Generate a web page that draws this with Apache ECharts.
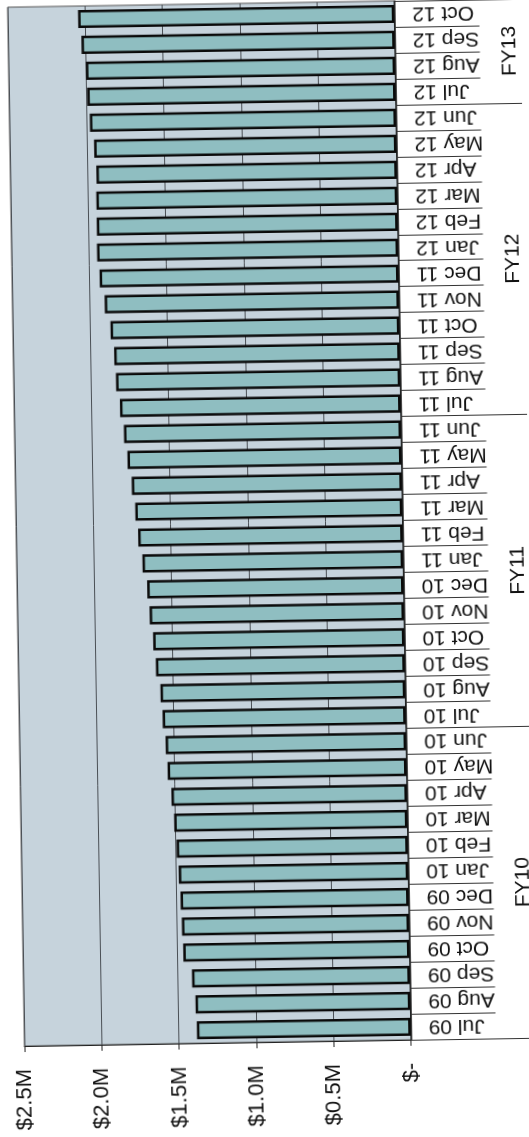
<!DOCTYPE html>
<html>
<head>
<meta charset="utf-8">
<script src="https://cdn.jsdelivr.net/npm/echarts@6/dist/echarts.min.js"></script>
<style>
html,body{margin:0;padding:0;background:#ffffff;}
#c{width:529px;height:1137px;transform:rotate(-0.93deg);transform-origin:209px 523px;}
</style>
</head>
<body>
<div id="c"></div>
<script>
// Months (bottom to top)
const months = [
  'Jul 09','Aug 09','Sep 09','Oct 09','Nov 09','Dec 09','Jan 10','Feb 10','Mar 10','Apr 10','May 10','Jun 10',
  'Jul 10','Aug 10','Sep 10','Oct 10','Nov 10','Dec 10','Jan 11','Feb 11','Mar 11','Apr 11','May 11','Jun 11',
  'Jul 11','Aug 11','Sep 11','Oct 11','Nov 11','Dec 11','Jan 12','Feb 12','Mar 12','Apr 12','May 12','Jun 12',
  'Jul 12','Aug 12','Sep 12','Oct 12'
];
// Values in $ millions
const values = [
  1.383,1.389,1.409,1.463,1.469,1.475,1.484,1.495,1.508,1.523,1.545,1.555,
  1.572,1.583,1.610,1.625,1.645,1.658,1.686,1.711,1.727,1.747,1.772,1.792,
  1.815,1.838,1.847,1.868,1.903,1.933,1.947,1.946,1.946,1.943,1.955,1.980,
  1.994,2.000,2.026,2.045
];
const valueTicks = [0, 0.5, 1.0, 1.5, 2.0, 2.5];
const valueTickLabels = ['$-', '$0.5M', '$1.0M', '$1.5M', '$2.0M', '$2.5M'];
const fiscalYears = ['FY10', 'FY11', 'FY12', 'FY13'];
const fiscalYearSizes = [12, 12, 12, 4];

// derived group boundaries and centers
const boundaries = [0];
fiscalYearSizes.forEach(s => boundaries.push(boundaries[boundaries.length - 1] + s));
const centers = fiscalYears.map((_, i) => (boundaries[i] + boundaries[i + 1]) / 2);

const FONT = '"Liberation Sans", Arial, sans-serif';
const chart = echarts.init(document.getElementById('c'), null, {renderer: 'canvas'});
chart.setOption({
  animation: false,
  grid: {
    left: 16, right: 126.5, top: 4, bottom: 94,
    show: true, backgroundColor: '#c6d3dc', borderColor: '#555', borderWidth: 1
  },
  xAxis: {
    type: 'value', inverse: true, position: 'bottom',
    min: valueTicks[0], max: valueTicks[valueTicks.length - 1], interval: 0.5,
    axisLine: {show: true, lineStyle: {color: '#222', width: 1.2}},
    axisTick: {show: true, length: 6, lineStyle: {color: '#222'}},
    splitLine: {show: true, lineStyle: {color: '#4a4f55', width: 1}},
    axisLabel: {
      rotate: 90, margin: 23, fontSize: 22, color: '#111', fontFamily: FONT,
      formatter: v => {
        const i = valueTicks.findIndex(t => Math.abs(t - v) < 1e-9);
        return i >= 0 ? valueTickLabels[i] : '';
      }
    }
  },
  yAxis: [
    {
      type: 'category', data: months, position: 'right',
      axisLine: {show: true, lineStyle: {color: '#111', width: 1.5}},
      axisTick: {show: true, length: 85, lineStyle: {color: '#333', width: 1}},
      axisLabel: {interval: 0, rotate: 180, margin: 18, fontSize: 21, color: '#111', fontFamily: FONT}
    },
    {
      type: 'category', data: months, position: 'right', offset: 0,
      axisLine: {show: false},
      axisTick: {show: true, length: 140, interval: (idx) => boundaries.indexOf(idx) >= 0,
        lineStyle: {color: '#333', width: 1}},
      axisLabel: {show: false}
    },
    {
      type: 'value', position: 'right', offset: 0, min: 0, max: boundaries[boundaries.length - 1], interval: 2,
      axisLine: {show: false}, axisTick: {show: false}, splitLine: {show: false},
      axisLabel: {
        rotate: 90, margin: 104, fontSize: 21, color: '#111', fontFamily: FONT,
        formatter: v => {
          const i = centers.indexOf(v);
          return i >= 0 ? fiscalYears[i] : '';
        }
      }
    }
  ],
  series: [{
    type: 'bar', data: values, xAxisIndex: 0, yAxisIndex: 0,
    barWidth: '70%',
    itemStyle: {color: '#8fbec1', borderColor: '#0a0a0a', borderWidth: 2.5}
  }]
});
</script>
</body>
</html>
